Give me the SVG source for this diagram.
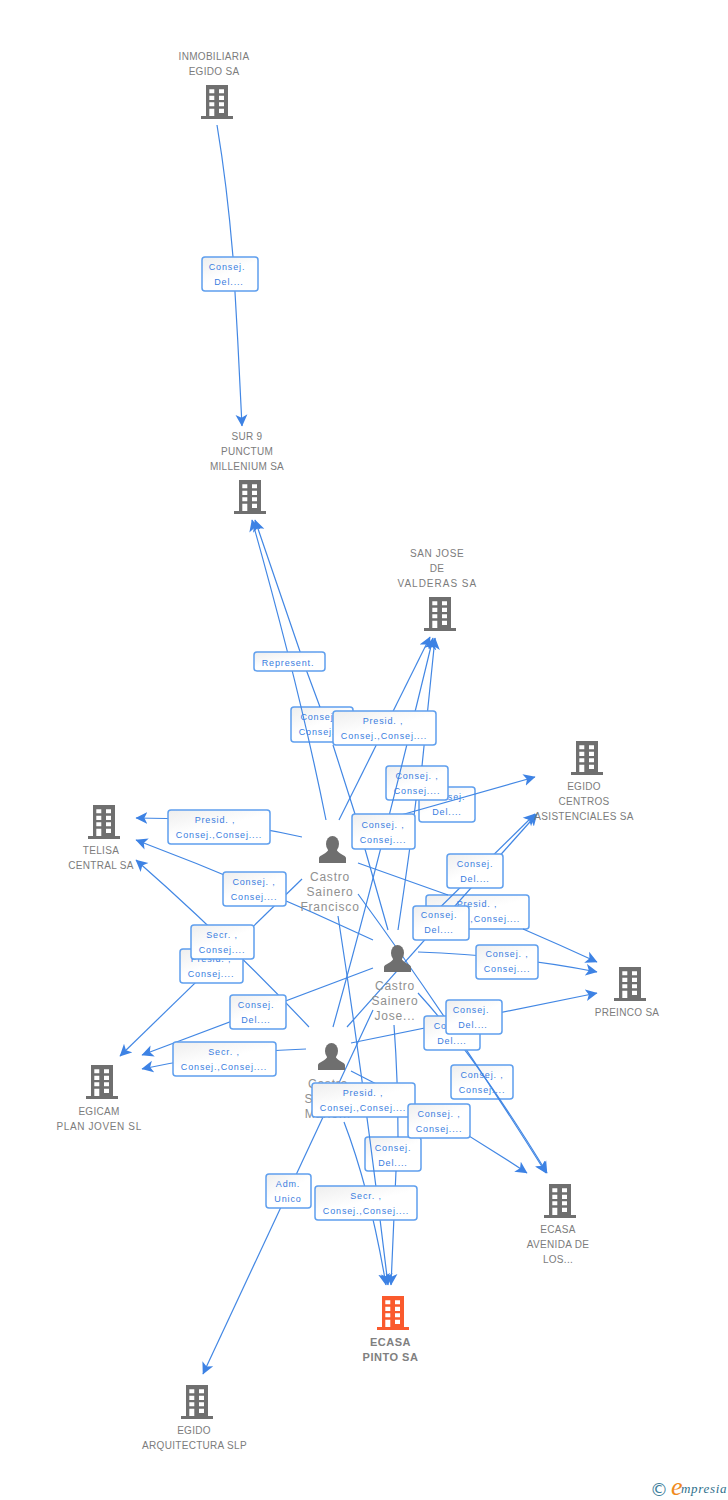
<svg xmlns="http://www.w3.org/2000/svg" width="728" height="1500" viewBox="0 0 728 1500">
<style>
text{font-family:"Liberation Sans",Arial,sans-serif}
.n{font-size:10px;letter-spacing:.3px;fill:#7c7c7c;text-anchor:middle}
.b{font-size:11px;letter-spacing:.5px;font-weight:bold;fill:#808080;text-anchor:middle}
.p{font-size:12px;letter-spacing:.8px;fill:#909090;text-anchor:middle}
.c{fill:none;stroke:#4287e4;stroke-width:1.2;marker-end:url(#ah)}
.l rect{fill:url(#lg);stroke:#5f9fee;stroke-width:1.5}
.l text{font-size:9px;letter-spacing:.85px;fill:#3a7de0;text-anchor:middle}
</style>
<defs>
<marker id="ah" markerUnits="userSpaceOnUse" markerWidth="13" markerHeight="13" refX="10.500" refY="6" orient="auto" viewBox="0 0 12 12"><path d="M11 6L0 .5L2.800 6L0 11.500Z" fill="#3d82e4"/></marker>
<linearGradient id="lg" x1="0" y1="0" x2=".7" y2="1"><stop offset="0" stop-color="#eeeeee"/><stop offset=".55" stop-color="#ffffff"/></linearGradient>
<g id="bd"><path d="M-11 0H11V31H16V34H-16V31H-11ZM-7.700 4.300V8.300H-2.700V4.300ZM2 4.300V8.300H7V4.300ZM-7.700 10.700V15H-2.700V10.700ZM2 10.700V15H7V10.700ZM-7.700 17.300V21.300H-2.700V17.300ZM2 17.300V21.300H7V17.300ZM-7.700 23.700V31H-2.700V23.700ZM2 23.700V28H7V23.700Z" fill-rule="evenodd"/></g>
<g id="pr"><ellipse cx="0" cy="8" rx="6.500" ry="8"/><path d="M-13.500 27V22C-13.500 19-5 18-4 13H4C5 18 13.500 19 13.500 22V27Z"/></g>
</defs>
<rect width="728" height="1500" fill="#fff"/>

<g id="labels-lower" class="l">
<g><rect x="291" y="707" width="62" height="35" rx="3"/><text x="322" y="720">Consej. ,</text><text x="322" y="735">Consej....</text></g>
<g><rect x="419" y="787" width="56" height="35" rx="3"/><text x="447" y="800">Consej.</text><text x="447" y="815">Del....</text></g>
<g><rect x="386" y="766" width="62" height="34" rx="3"/><text x="417" y="779">Consej. ,</text><text x="417" y="794">Consej....</text></g>
<g><rect x="426" y="895" width="103" height="34" rx="3"/><text x="477" y="907">Presid. ,</text><text x="477" y="922">Consej.,Consej....</text></g>
<g><rect x="451" y="1065" width="62" height="34" rx="3"/><text x="482" y="1078">Consej. ,</text><text x="482" y="1093">Consej....</text></g>
<g><rect x="365" y="1137" width="56" height="34" rx="3"/><text x="393" y="1151">Consej.</text><text x="393" y="1166">Del....</text></g>
</g>

<g id="connectors">
<path class="c" d="M217 125Q227 185 233 257Q238 340 242 426"/>
<path class="c" d="M326 820Q300 690 252 520"/>
<path class="c" d="M388 930L355 814L333 745M320 707L307 672L255 520"/>
<path class="c" d="M339 820L430 637"/>
<path class="c" d="M333 1027Q377 870 433 638"/>
<path class="c" d="M398 930Q410 850 416 800M422 766L435 638"/>
<path class="c" d="M355 828L535 777"/>
<path class="c" d="M415 932L535 814"/>
<path class="c" d="M347 1027L537 814"/>
<path class="c" d="M358 863L448 895M523 929Q560 945 597 962"/>
<path class="c" d="M418 952Q510 955 597 972"/>
<path class="c" d="M351 1043L597 993"/>
<path class="c" d="M358 894Q450 1020 546 1173"/>
<path class="c" d="M418 993Q475 1055 547 1173"/>
<path class="c" d="M351 1071Q440 1115 527 1173"/>
<path class="c" d="M302 837Q220 818 136 818"/>
<path class="c" d="M373 940Q255 885 136 840"/>
<path class="c" d="M309 1027Q225 938 136 860"/>
<path class="c" d="M302 879L120 1056"/>
<path class="c" d="M373 968L142 1055"/>
<path class="c" d="M306 1049Q220 1052 142 1069"/>
<path class="c" d="M373 1010L203 1374"/>
<path class="c" d="M338 916Q365 1090 388 1285"/>
<path class="c" d="M394 1025Q398 1080 398 1137M396 1171L391 1285"/>
<path class="c" d="M344 1122Q370 1190 386 1285"/>
</g>

<g id="n-inmobiliaria" fill="#6f6f6f"><use href="#bd" x="217" y="85"/><text class="n" x="214" y="60">INMOBILIARIA</text><text class="n" x="214" y="75">EGIDO SA</text></g>
<g id="n-sur9" fill="#6f6f6f"><use href="#bd" x="250" y="480"/><text class="n" x="247" y="440">SUR 9</text><text class="n" x="247" y="455">PUNCTUM</text><text class="n" x="247" y="470">MILLENIUM SA</text></g>
<g id="n-sanjose" fill="#6f6f6f"><use href="#bd" x="440" y="597"/><text class="n" x="437" y="557" textLength="54">SAN JOSE</text><text class="n" x="437" y="572">DE</text><text class="n" x="437" y="587" textLength="79">VALDERAS SA</text></g>
<g id="n-centros" fill="#6f6f6f"><use href="#bd" x="587" y="741"/><text class="n" x="584" y="790">EGIDO</text><text class="n" x="584" y="805">CENTROS</text><text class="n" x="584" y="820">ASISTENCIALES SA</text></g>
<g id="n-telisa" fill="#6f6f6f"><use href="#bd" x="104" y="805"/><text class="n" x="101" y="854">TELISA</text><text class="n" x="101" y="869">CENTRAL SA</text></g>
<g id="n-preinco" fill="#6f6f6f"><use href="#bd" x="630" y="967"/><text class="n" x="627" y="1016">PREINCO SA</text></g>
<g id="n-egicam" fill="#6f6f6f"><use href="#bd" x="102" y="1065"/><text class="n" x="99" y="1115">EGICAM</text><text class="n" x="99" y="1130" textLength="85">PLAN JOVEN SL</text></g>
<g id="n-avenida" fill="#6f6f6f"><use href="#bd" x="560" y="1184"/><text class="n" x="558" y="1233">ECASA</text><text class="n" x="558" y="1248">AVENIDA DE</text><text class="n" x="558" y="1263">LOS...</text></g>
<g id="n-pinto"><use href="#bd" x="393" y="1296" fill="#fa5a2d"/><text class="b" x="390.500" y="1346">ECASA</text><text class="b" x="390.500" y="1361">PINTO SA</text></g>
<g id="n-arquitectura" fill="#6f6f6f"><use href="#bd" x="197" y="1385"/><text class="n" x="194" y="1434">EGIDO</text><text class="n" x="194.500" y="1449">ARQUITECTURA SLP</text></g>

<g id="p-francisco" fill="#6f6f6f"><use href="#pr" x="332.500" y="836"/><text class="p" x="330" y="881">Castro</text><text class="p" x="330" y="896">Sainero</text><text class="p" x="330" y="911">Francisco</text></g>
<g id="p-jose" fill="#6f6f6f"><use href="#pr" x="397.500" y="945"/><text class="p" x="395" y="990">Castro</text><text class="p" x="395" y="1005">Sainero</text><text class="p" x="395" y="1020">Jose...</text></g>
<g id="p-third" fill="#6f6f6f"><use href="#pr" x="331.500" y="1043"/><text class="p" x="328" y="1088">Castro</text><text class="p" x="328" y="1103">Sainero</text><text class="p" x="328" y="1118">Mario...</text></g>

<g id="labels" class="l">
<g><rect x="202" y="257" width="56" height="34" rx="3"/><text x="227" y="270">Consej.</text><text x="229" y="285">Del....</text></g>
<g><rect x="254" y="652" width="71" height="19" rx="3"/><text x="288" y="666">Represent.</text></g>
<g><rect x="333" y="711" width="103" height="34" rx="3"/><text x="383" y="724">Presid. ,</text><text x="384" y="739">Consej.,Consej....</text></g>
<g><rect x="352" y="814" width="63" height="35" rx="3"/><text x="383" y="828">Consej. ,</text><text x="383" y="843">Consej....</text></g>
<g><rect x="168" y="810" width="102" height="34" rx="3"/><text x="215" y="823">Presid. ,</text><text x="219" y="838">Consej.,Consej....</text></g>
<g><rect x="223" y="872" width="63" height="34" rx="3"/><text x="254" y="885">Consej. ,</text><text x="254" y="900">Consej....</text></g>
<g><rect x="180" y="949" width="63" height="34" rx="3"/><text x="211" y="962">Presid. ,</text><text x="211" y="977">Consej....</text></g>
<g><rect x="191" y="925" width="63" height="34" rx="3"/><text x="222" y="938">Secr. ,</text><text x="222" y="953">Consej....</text></g>
<g><rect x="230" y="995" width="56" height="34" rx="3"/><text x="256" y="1008">Consej.</text><text x="256" y="1023">Del....</text></g>
<g><rect x="173" y="1042" width="103" height="34" rx="3"/><text x="224" y="1055">Secr. ,</text><text x="224" y="1070">Consej.,Consej....</text></g>
<g><rect x="447" y="854" width="56" height="34" rx="3"/><text x="475" y="867">Consej.</text><text x="475" y="882">Del....</text></g>
<g><rect x="413" y="906" width="56" height="34" rx="3"/><text x="439" y="918">Consej.</text><text x="439" y="933">Del....</text></g>
<g><rect x="476" y="945" width="62" height="34" rx="3"/><text x="507" y="957">Consej. ,</text><text x="507" y="972">Consej....</text></g>
<g><rect x="424" y="1016" width="56" height="34" rx="3"/><text x="452" y="1029">Consej.</text><text x="452" y="1044">Del....</text></g>
<g><rect x="446" y="1000" width="56" height="34" rx="3"/><text x="471" y="1013">Consej.</text><text x="473" y="1028">Del....</text></g>
<g><rect x="312" y="1083" width="103" height="34" rx="3"/><text x="363" y="1096">Presid. ,</text><text x="363" y="1111">Consej.,Consej....</text></g>
<g><rect x="408" y="1104" width="62" height="34" rx="3"/><text x="439" y="1117">Consej. ,</text><text x="439" y="1132">Consej....</text></g>
<g><rect x="266" y="1174" width="45" height="34" rx="3"/><text x="288" y="1187">Adm.</text><text x="288" y="1202">Unico</text></g>
<g><rect x="315" y="1186" width="102" height="34" rx="3"/><text x="366" y="1199">Secr. ,</text><text x="366" y="1214">Consej.,Consej....</text></g>
</g>

<g id="logo">
<text x="650" y="1496" font-size="18" fill="#3f7f9c" style="font-family:'DejaVu Sans',sans-serif">©</text>
<text x="671" y="1495" font-size="26" font-style="italic" fill="#f08a1d" style="font-family:'Liberation Serif',serif">e</text>
<text x="681" y="1493" font-size="13" font-style="italic" letter-spacing=".7" fill="#2f6f8c" style="font-family:'Liberation Serif',serif">mpresia</text>
</g>
</svg>
